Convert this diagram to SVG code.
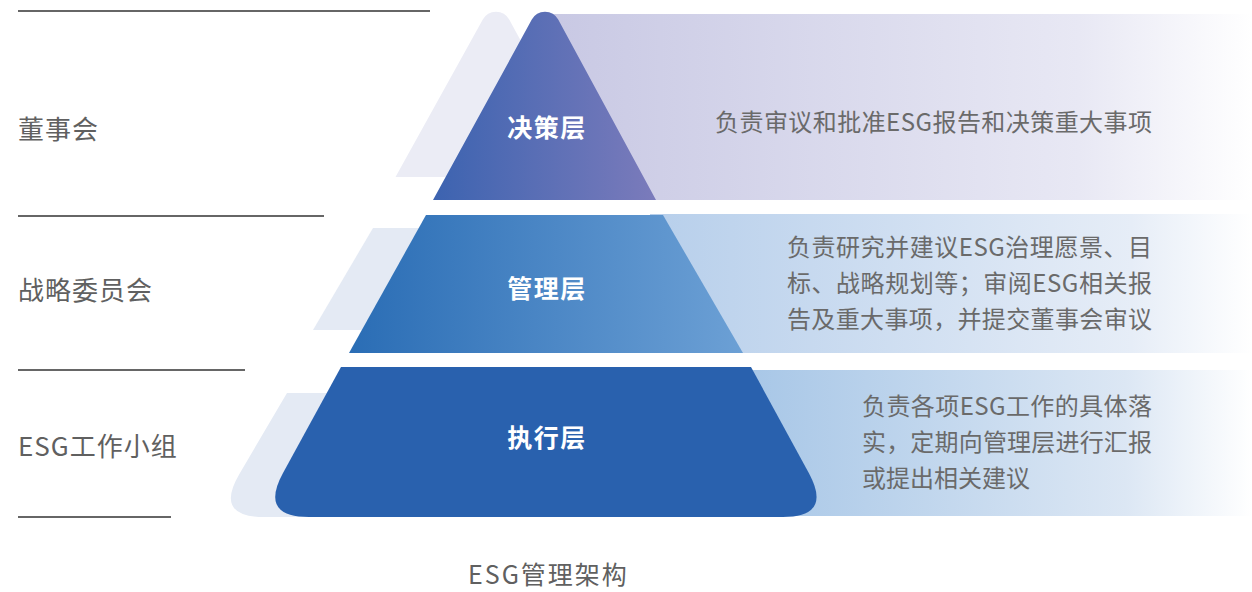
<svg xmlns="http://www.w3.org/2000/svg" width="1252" height="592" viewBox="0 0 1252 592">
  <defs>
    <linearGradient id="gTopTri" gradientUnits="userSpaceOnUse" x1="433" y1="0" x2="656" y2="0">
      <stop offset="0" stop-color="#3C63B0"/>
      <stop offset="1" stop-color="#7B7BBB"/>
    </linearGradient>
    <linearGradient id="gTopBand" gradientUnits="userSpaceOnUse" x1="560" y1="0" x2="1252" y2="0">
      <stop offset="0" stop-color="#C9C9E4"/>
      <stop offset="0.75" stop-color="#E8E8F4"/>
      <stop offset="1" stop-color="#FFFFFF"/>
    </linearGradient>
    <linearGradient id="gMidTrap" gradientUnits="userSpaceOnUse" x1="349" y1="0" x2="743" y2="0">
      <stop offset="0" stop-color="#2A6DB5"/>
      <stop offset="1" stop-color="#6CA0D5"/>
    </linearGradient>
    <linearGradient id="gMidBand" gradientUnits="userSpaceOnUse" x1="650" y1="0" x2="1252" y2="0">
      <stop offset="0" stop-color="#B7CFEB"/>
      <stop offset="0.8" stop-color="#E6EDF7"/>
      <stop offset="1" stop-color="#FFFFFF"/>
    </linearGradient>
    <linearGradient id="gBotBand" gradientUnits="userSpaceOnUse" x1="750" y1="0" x2="1252" y2="0">
      <stop offset="0" stop-color="#A8C7E7"/>
      <stop offset="0.75" stop-color="#DCE7F4"/>
      <stop offset="1" stop-color="#FFFFFF"/>
    </linearGradient>
    <style>
      .sep { stroke: #666666; stroke-width: 2; fill: none; }
      .side { font-family: "Noto Sans CJK SC", "Noto Sans", sans-serif; font-size: 26px; fill: #606060; letter-spacing: 1px; }
      .tier { font-family: "Noto Sans CJK SC", "Noto Sans", sans-serif; font-size: 25px; font-weight: bold; fill: #FFFFFF; text-anchor: middle; letter-spacing: 1.5px; }
      .desc { font-family: "Noto Sans CJK SC", "Noto Sans", sans-serif; font-size: 24px; fill: #6A6A6A; }
      .cap { font-family: "Noto Sans CJK SC", "Noto Sans", sans-serif; font-size: 25px; fill: #606060; letter-spacing: 2px; }
    </style>
  </defs>

  <g id="connectors">
    <line class="sep" x1="18" y1="11" x2="430" y2="11"/>
    <line class="sep" x1="18" y1="216" x2="324" y2="216"/>
    <line class="sep" x1="18" y1="370" x2="245" y2="370"/>
    <line class="sep" x1="18" y1="517" x2="171" y2="517"/>
  </g>

  <g id="tier-decision">
    <rect x="540" y="14" width="712" height="186" fill="url(#gTopBand)"/>
    <path d="M395.5,177 L482.8,19.6 A15,15 0 0 1 509.2,19.6 L595,177 Z" fill="#EBECF5"/>
    <path d="M433,200 L531.8,19.6 A15,15 0 0 1 558.2,19.6 L656,200 Z" fill="url(#gTopTri)"/>
    <text class="tier" x="547" y="137">决策层</text>
    <text class="desc" x="715" y="131" textLength="437" lengthAdjust="spacing">负责审议和批准ESG报告和决策重大事项</text>
  </g>

  <g id="tier-management">
    <rect x="650" y="214" width="602" height="139" fill="url(#gMidBand)"/>
    <path d="M373,228 L440,228 L400,330 L313,330 Z" fill="#E4EAF4"/>
    <path d="M426,215 L663,215 L743,353 L349,353 Z" fill="url(#gMidTrap)"/>
    <text class="tier" x="547" y="298">管理层</text>
    <text class="desc" x="787" y="256" textLength="365" lengthAdjust="spacing">负责研究并建议ESG治理愿景、目</text>
    <text class="desc" x="787" y="292" textLength="365" lengthAdjust="spacing">标、战略规划等；审阅ESG相关报</text>
    <text class="desc" x="787" y="328" textLength="365" lengthAdjust="spacing">告及重大事项，并提交董事会审议</text>
  </g>

  <g id="tier-execution">
    <rect x="740" y="370" width="512" height="146" fill="url(#gBotBand)"/>
    <path d="M287,393 L360,393 L360,517 L264,517 Q214,517 239.4,473.9 Z" fill="#E4EAF4"/>
    <path d="M341,367 L751,367 L808.8,473 Q832.75,517 782.75,517 L309,517 Q259,517 283,473 Z" fill="#2961AE"/>
    <text class="tier" x="547" y="447">执行层</text>
    <text class="desc" x="862" y="415" textLength="290" lengthAdjust="spacing">负责各项ESG工作的具体落</text>
    <text class="desc" x="862" y="451" textLength="290" lengthAdjust="spacing">实，定期向管理层进行汇报</text>
    <text class="desc" x="862" y="487">或提出相关建议</text>
  </g>

  <g id="label-board">
    <text class="side" x="18" y="139">董事会</text>
  </g>
  <g id="label-strategy">
    <text class="side" x="18" y="300">战略委员会</text>
  </g>
  <g id="label-workgroup">
    <text class="side" x="18" y="456">ESG工作小组</text>
  </g>

  <g id="caption">
    <text class="cap" x="468" y="584">ESG管理架构</text>
  </g>
</svg>
